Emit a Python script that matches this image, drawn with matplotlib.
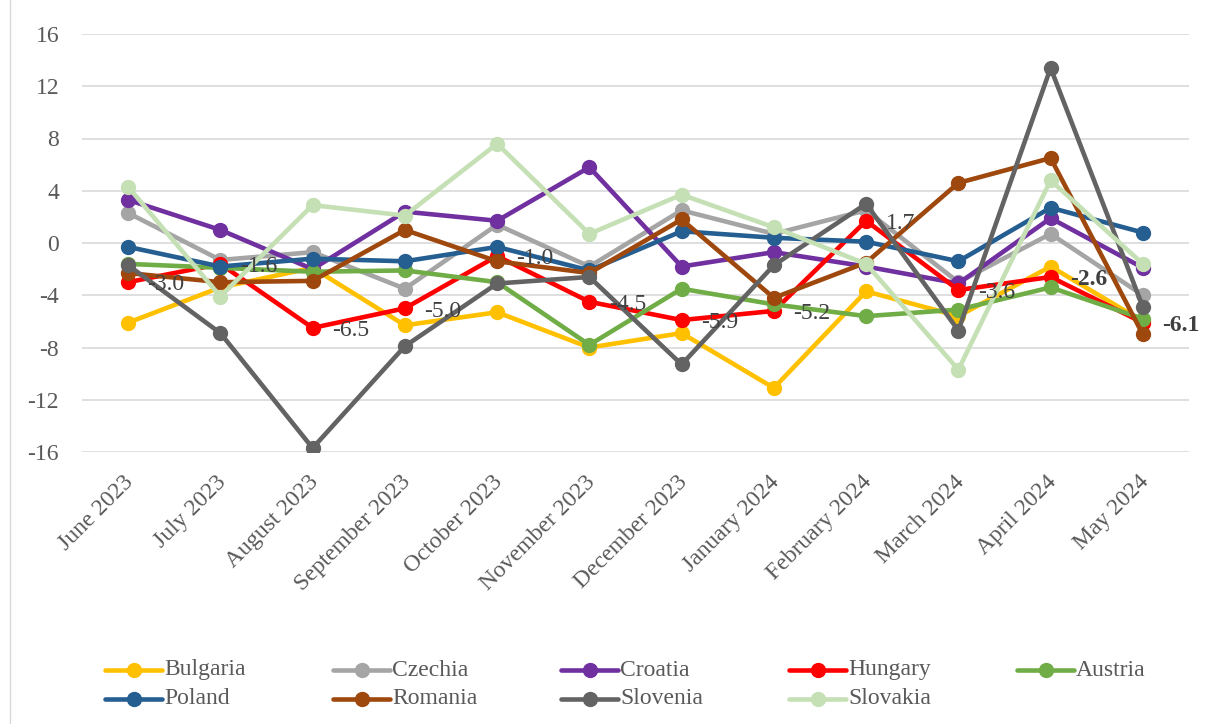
import matplotlib
matplotlib.use("Agg")
import matplotlib.pyplot as plt
import matplotlib.transforms as mtransforms
from matplotlib.lines import Line2D
from matplotlib.patches import Rectangle

# months on the category axis
months = ["June 2023", "July 2023", "August 2023", "September 2023", "October 2023",
          "November 2023", "December 2023", "January 2024", "February 2024",
          "March 2024", "April 2024", "May 2024"]

# values
bulgaria = [-6.1, -3.4, -1.9, -6.3, -5.3, -8.0, -6.9, -11.1, -3.7, -5.6, -1.8, -6.0]
czechia = [2.3, -1.3, -0.7, -3.5, 1.4, -1.8, 2.5, 0.7, 2.5, -3.0, 0.7, -4.0]
croatia = [3.3, 1.0, -2.0, 2.4, 1.7, 5.8, -1.8, -0.7, -1.8, -3.1, 1.9, -1.9]
hungary = [-3.0, -1.6, -6.5, -5.0, -1.0, -4.5, -5.9, -5.2, 1.7, -3.6, -2.6, -6.1]
austria = [-1.6, -1.9, -2.2, -2.1, -3.0, -7.8, -3.5, -4.7, -5.6, -5.1, -3.4, -5.8]
poland = [-0.3, -1.8, -1.2, -1.4, -0.3, -2.1, 0.9, 0.4, 0.1, -1.4, 2.7, 0.8]
romania = [-2.3, -3.0, -2.9, 1.0, -1.4, -2.3, 1.8, -4.2, -1.5, 4.6, 6.5, -7.0]
slovenia = [-1.7, -6.9, -15.7, -7.9, -3.1, -2.6, -9.3, -1.7, 3.0, -6.7, 13.4, -4.9]
slovakia = [4.3, -4.1, 2.9, 2.1, 7.6, 0.7, 3.7, 1.2, -1.6, -9.7, 4.8, -1.6]

series = [
    ("Bulgaria", bulgaria, "#FFC000"),
    ("Czechia", czechia, "#A5A5A5"),
    ("Croatia", croatia, "#7030A0"),
    ("Hungary", hungary, "#FF0000"),
    ("Austria", austria, "#70AD47"),
    ("Poland", poland, "#255E91"),
    ("Romania", romania, "#9E480E"),
    ("Slovenia", slovenia, "#636363"),
    ("Slovakia", slovakia, "#C5E0B4"),
]

yticks = [16, 12, 8, 4, 0, -4, -8, -12, -16]

plt.rcParams['font.family'] = ['Liberation Serif', 'DejaVu Serif']

W, H = 1216, 724
fig = plt.figure(figsize=(W / 100, H / 100), dpi=100)
ax = fig.add_axes([82 / W, 1 - 452 / H, (1189 - 82) / W, (452 - 34) / H])

x = list(range(len(months)))
for name, vals, col in series:
    ax.plot(x, vals, color=col, linewidth=3.3, marker='o', markersize=10,
            solid_joinstyle='round', label=name, zorder=3)

# data labels for Hungary
for i, v in enumerate(hungary):
    bold = i >= 10
    ax.annotate(f"{v:.1f}", (x[i], v), xytext=(14, -2), textcoords='offset points',
                ha='left', va='center', fontsize=17, color='#404040',
                fontweight='bold' if bold else 'normal', zorder=5)

ax.set_xlim(-0.5, len(months) - 0.5)
ax.set_ylim(-16, 16)
ax.set_yticks(yticks)
ax.set_yticklabels([str(t) for t in yticks])
ax.set_xticks(x)
ax.set_xticklabels(months, rotation=45, ha='right', rotation_mode='anchor')
ax.tick_params(axis='both', length=0, labelsize=17, colors='#595959')
ax.tick_params(axis='y', pad=16.5)
ax.tick_params(axis='x', pad=14)
# nudge the slanted month labels a bit left so they end under the tick
shift = mtransforms.ScaledTranslation(-5 / 100, 0, fig.dpi_scale_trans)
for lbl in ax.get_xticklabels():
    lbl.set_transform(lbl.get_transform() + shift)
ax.grid(axis='y', color='#D9D9D9', linewidth=1.2, zorder=0)
ax.set_axisbelow(True)
for s in ax.spines.values():
    s.set_visible(False)

# legend laid out like the Excel one: 5 evenly spaced columns, 2 rows
for i, (name, vals, col) in enumerate(series):
    row, c = divmod(i, 5)
    x0 = (105 + 228 * c) / W
    yy = 1 - (670 + 29 * row) / H
    x1 = x0 + 57 / W
    fig.add_artist(Line2D([x0, x1], [yy, yy], transform=fig.transFigure,
                          color=col, linewidth=3.3, solid_capstyle='round'))
    fig.add_artist(Line2D([(x0 + x1) / 2], [yy], transform=fig.transFigure,
                          color=col, marker='o', markersize=10, linestyle='none'))
    fig.text(x1 + 2 / W, yy, name, ha='left', va='center', fontsize=17,
             color='#595959')

# outer chart border
fig.patches.append(Rectangle((10 / W, -0.01), 1.1, 1.1, transform=fig.transFigure,
                             fill=False, edgecolor='#D9D9D9', linewidth=1))

fig.savefig("out.png", dpi=100)
